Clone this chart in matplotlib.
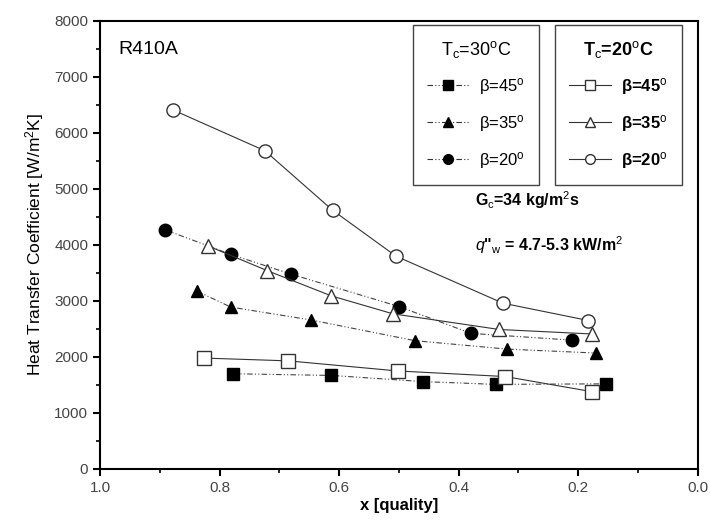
import numpy as np
import matplotlib
matplotlib.use("Agg")
import matplotlib.pyplot as plt
from matplotlib.lines import Line2D
from matplotlib.ticker import MultipleLocator

plt.rcParams['font.family'] = ['Liberation Sans', 'DejaVu Sans']
plt.rcParams['mathtext.fontset'] = 'custom'
plt.rcParams['mathtext.rm'] = 'Liberation Sans'
plt.rcParams['mathtext.it'] = 'Liberation Sans:italic'
plt.rcParams['mathtext.bf'] = 'Liberation Sans:bold'

# Tc = 30 C (filled markers, dash-dot-dot lines)
x_30_45 = [0.778, 0.613, 0.459, 0.338, 0.154]
h_30_45 = [1700, 1670, 1560, 1510, 1520]
x_30_35 = [0.837, 0.781, 0.647, 0.473, 0.319, 0.171]
h_30_35 = [3170, 2890, 2660, 2290, 2140, 2070]
x_30_20 = [0.891, 0.781, 0.681, 0.500, 0.379, 0.210]
h_30_20 = [4270, 3830, 3480, 2900, 2420, 2300]

# Tc = 20 C (open markers, solid lines)
x_20_45 = [0.826, 0.685, 0.502, 0.322, 0.177]
h_20_45 = [1980, 1930, 1750, 1650, 1380]
x_20_35 = [0.819, 0.720, 0.613, 0.510, 0.332, 0.177]
h_20_35 = [3980, 3540, 3090, 2770, 2490, 2410]
x_20_20 = [0.878, 0.724, 0.611, 0.505, 0.326, 0.183]
h_20_20 = [6410, 5680, 4620, 3800, 2960, 2650]

labels = [r'β=45$^{\rm o}$', r'β=35$^{\rm o}$', r'β=20$^{\rm o}$']
markers = ['s', '^', 'o']

fig = plt.figure(figsize=(7.1, 5.26), dpi=100)
ax = fig.add_axes([0.1408, 0.1084, 0.842, 0.852])

dashdot = (0, (5, 2, 1, 2, 1, 2))
lw = 0.8
ms = 9

hot = [(x_30_45, h_30_45), (x_30_35, h_30_35), (x_30_20, h_30_20)]
cold = [(x_20_45, h_20_45), (x_20_35, h_20_35), (x_20_20, h_20_20)]

for (xs, hs), m in zip(hot, markers):
    ax.plot(xs, hs, color='#444444', linestyle=dashdot, linewidth=lw,
            marker=m, markersize=ms, markerfacecolor='black', markeredgecolor='black')
for (xs, hs), m in zip(cold, markers):
    ax.plot(xs, hs, color='#333333', linestyle='-', linewidth=lw,
            marker=m, markersize=ms + 0.5, markerfacecolor='white', markeredgecolor='#333333',
            markeredgewidth=1.0)

ax.set_xlim(1.0, 0.0)
ax.set_ylim(0, 8000)
ax.xaxis.set_major_locator(MultipleLocator(0.2))
ax.xaxis.set_minor_locator(MultipleLocator(0.1))
ax.yaxis.set_major_locator(MultipleLocator(1000))
ax.yaxis.set_minor_locator(MultipleLocator(500))
ax.xaxis.set_major_formatter(plt.FuncFormatter(lambda v, p: f"{v:.1f}"))
ax.tick_params(which='major', direction='out', length=5, width=1.5, labelsize=11,
               labelcolor='#444444', top=False, right=False)
ax.tick_params(which='minor', direction='out', length=3, width=1.2, top=False, right=False)
for s in ax.spines.values():
    s.set_linewidth(1.5)

ax.set_xlabel('x [quality]', fontsize=12, fontweight='bold', labelpad=2)
ax.set_ylabel('Heat Transfer Coefficient [W/m$^{\\rm 2}$K]', fontsize=12.5, labelpad=6)

ax.text(0.03, 0.935, 'R410A', transform=ax.transAxes, fontsize=14, va='center')
ax.text(0.627, 0.60, r'G$_{\rm c}$=34 kg/m$^{\rm 2}$s', transform=ax.transAxes,
        fontsize=11.5, fontweight='bold', va='center')
ax.text(0.627, 0.50, r'$q$"$_{\rm w}$ = 4.7-5.3 kW/m$^{\rm 2}$', transform=ax.transAxes,
        fontsize=11.5, fontweight='bold', va='center')

def handles(filled, style):
    out = []
    for m in markers:
        out.append(Line2D([], [], color='#333333', linestyle=style, linewidth=lw, marker=m,
                          markersize=7, markerfacecolor='black' if filled else 'white',
                          markeredgecolor='black' if filled else '#333333'))
    return out

common = dict(loc='upper left', bbox_transform=fig.transFigure, title_fontsize=13,
              frameon=True, fancybox=False, edgecolor='#444444', framealpha=1,
              handlelength=2.5, handletextpad=0.6, labelspacing=0.95, borderpad=0.85,
              borderaxespad=0)

leg1 = ax.legend(handles(True, dashdot), labels, title=r'T$_{\rm c}$=30$^{\rm o}$C',
                 bbox_to_anchor=(413 / 710, 1 - 25 / 526), prop={'size': 12}, **common)
leg1.get_frame().set_linewidth(1.0)
ax.add_artist(leg1)

leg2 = ax.legend(handles(False, '-'), labels, title=r'T$_{\rm c}$=20$^{\rm o}$C',
                 bbox_to_anchor=(555 / 710, 1 - 25 / 526),
                 prop={'size': 12, 'weight': 'bold'}, **common)
leg2.get_frame().set_linewidth(1.0)
leg2.get_title().set_fontweight('bold')

fig.savefig('out.png', dpi=100)
